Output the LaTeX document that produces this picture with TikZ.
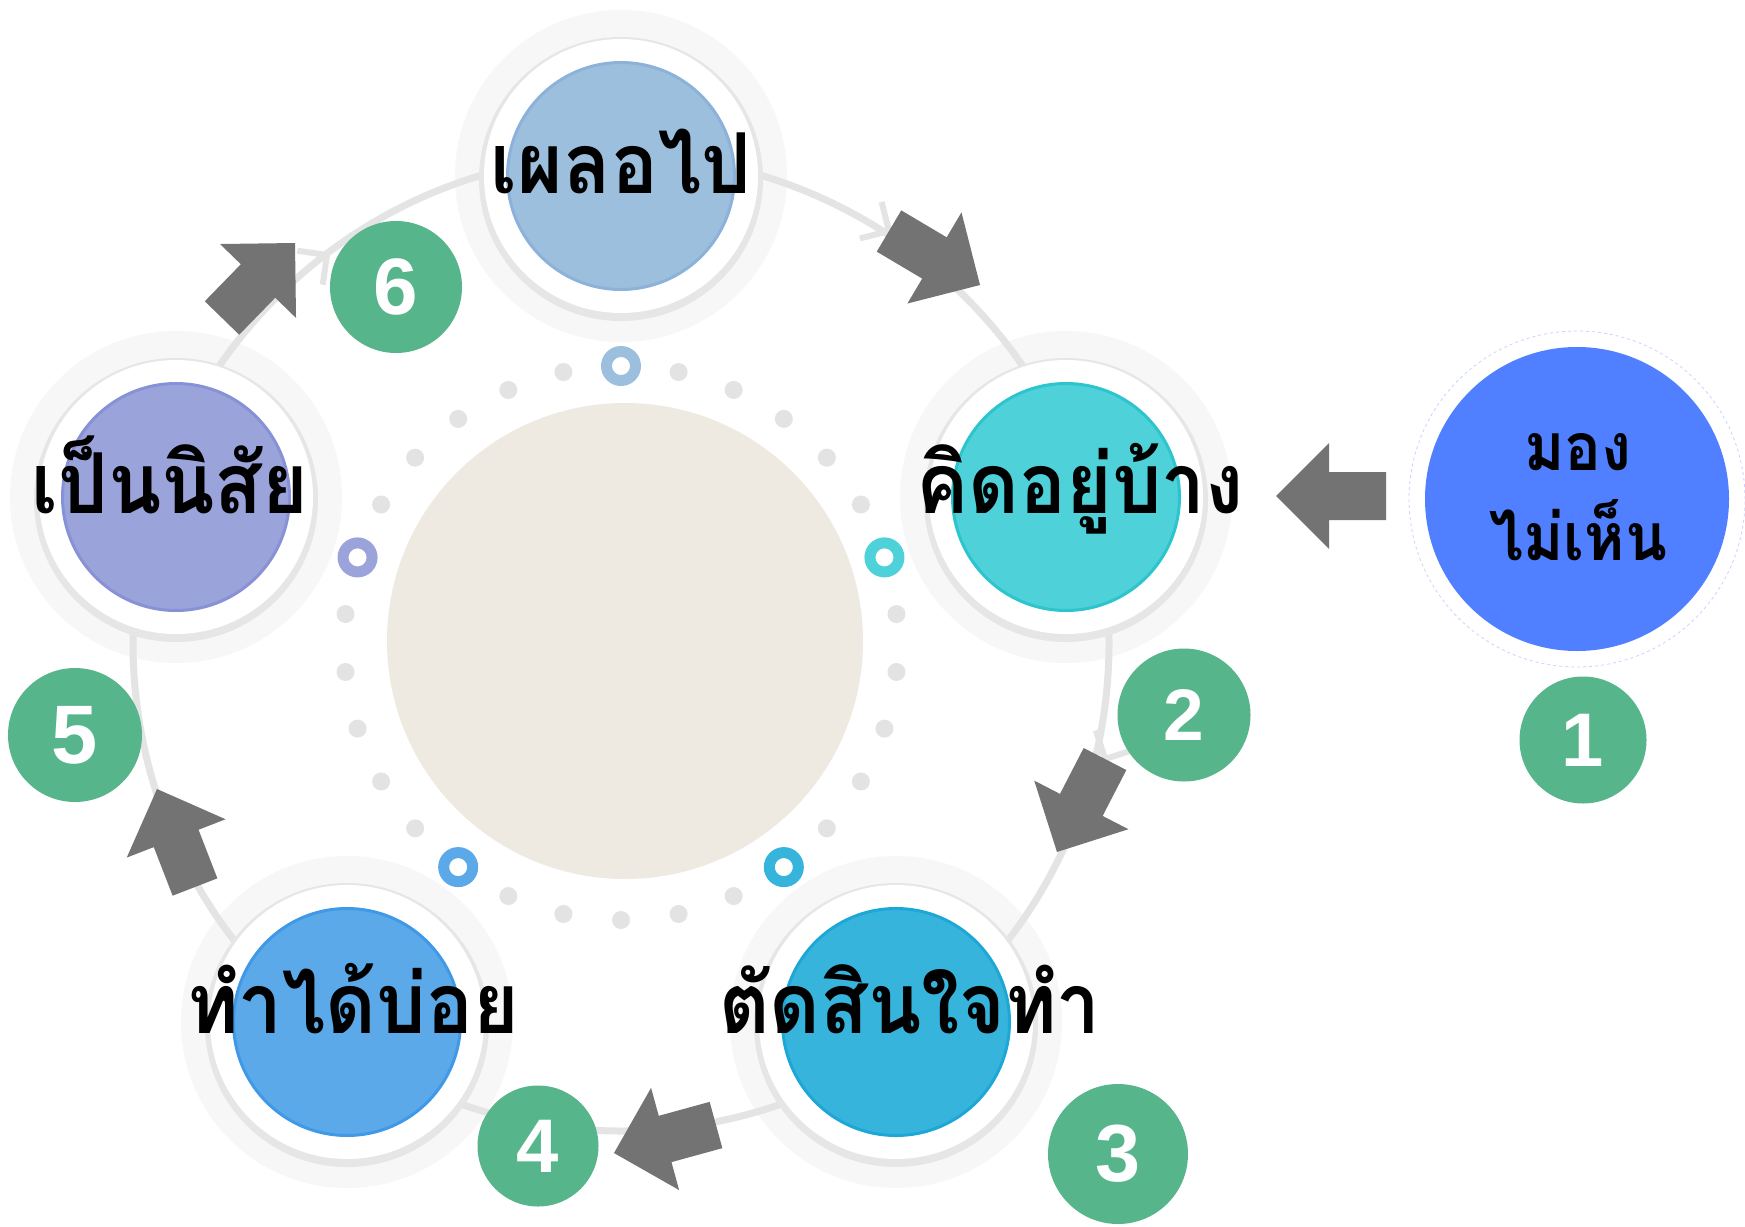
\documentclass[tikz,border=0pt]{standalone}
\usepackage{fontspec}
\setmainfont{Liberation Sans}
\newfontfamily\thaifont[Script=Thai,FakeStretch=0.93]{Loma}
\usetikzlibrary{calc}
\definecolor{arcgray}{HTML}{E4E4E4}
\definecolor{halogray}{HTML}{F7F7F7}
\definecolor{shadowgray}{HTML}{E6E6E6}
\definecolor{dotgray}{HTML}{E3E3E3}
\definecolor{beige}{HTML}{EEEAE1}
\definecolor{numgreen}{HTML}{57B58C}
\definecolor{arrowgray}{HTML}{737373}
\definecolor{cA}{HTML}{9DBFDE}\definecolor{bA}{HTML}{8CB2D9}
\definecolor{cB}{HTML}{4ED1D8}\definecolor{bB}{HTML}{2CC4CD}
\definecolor{cC}{HTML}{37B4DC}\definecolor{bC}{HTML}{1DA7D6}
\definecolor{cD}{HTML}{5BA9E8}\definecolor{bD}{HTML}{3F99E7}
\definecolor{cE}{HTML}{9AA4DB}\definecolor{bE}{HTML}{8791D6}
\definecolor{startblue}{HTML}{5080FF}
\definecolor{startrim}{HTML}{C9D3FF}
\tikzset{
  halo/.style={circle, fill=halogray, minimum size=332pt, inner sep=0pt},
  shadowdisk/.style={circle, fill=shadowgray, minimum size=284pt, inner sep=0pt},
  whitedisk/.style={circle, fill=white, minimum size=274pt, inner sep=0pt},
  core/.style={circle, minimum size=227pt, inner sep=0pt, line width=3pt},
  steptext/.style={font=\thaifont\bfseries\fontsize{84}{90}\selectfont, text=black, inner sep=0pt, anchor=base},
  starttext/.style={font=\thaifont\bfseries\fontsize{66}{70}\selectfont, text=black, inner sep=0pt, anchor=base},
  numdisk/.style={circle, fill=numgreen, text=white, inner sep=0pt, font=\bfseries\fontsize{#1}{#1}\selectfont},
  ringdot/.style={line width=11pt, fill=white},
}
\newcommand\blockarrow[2]{%
  \coordinate (#1-hb) at ($(#2)!53pt!(#1)$);
  \fill[arrowgray] ($(#1)!24pt!90:(#2)$) -- ($(#1-hb)!24pt!90:(#2)$) -- ($(#1-hb)!53pt!90:(#2)$) -- (#2) -- ($(#1-hb)!53pt!-90:(#2)$) -- ($(#1-hb)!24pt!-90:(#2)$) -- ($(#1)!24pt!-90:(#2)$) -- cycle;
}
\newcommand\chevronmark[2]{%
  \draw[arcgray, line width=6pt] ($(#1)!30pt!135:(#2)$) -- (#1) -- ($(#1)!30pt!-135:(#2)$);
}
\begin{document}
\begin{tikzpicture}[x=1pt,y=-1pt]
\useasboundingbox (0,0) rectangle (1745,1226);
\fill[white] (0,0) rectangle (1745,1226);
\coordinate (O) at (621,643);
% node centres
\coordinate (pA) at (621,176);
\coordinate (pB) at (1066,497);
\coordinate (pC) at (896,1022);
\coordinate (pD) at (347,1022);
\coordinate (pE) at (176,497);
% halos
\foreach \p in {A,B,C,D,E} {\node[halo] (h\p) at (p\p) {};}
% connecting arc
\draw[arcgray, line width=7pt] (O) circle (488pt);
% arrow positions
\coordinate (a1t) at (889,231); \coordinate (a1p) at (980,285);
\coordinate (a2t) at (1105,759); \coordinate (a2p) at (1057,852);
\coordinate (a3t) at (716,1125); \coordinate (a3p) at (614,1153);
\coordinate (a4t) at (195,887); \coordinate (a4p) at (157,789);
\coordinate (a5t) at (222,318); \coordinate (a5p) at (295,243);
\coordinate (a0t) at (1386,496); \coordinate (a0p) at (1276,496);
\coordinate (c5t) at (327,255); \coordinate (c5d) at (359,231);
% faint arrow heads of the arc
\chevronmark{a1t}{a1p}
\chevronmark{a2t}{a2p}
\chevronmark{c5t}{c5d}
% node discs
\foreach \p in {A,B,C,D,E} {
  \node[shadowdisk] (s\p) at ($(p\p)+(0,3)$) {};
  \node[whitedisk] (w\p) at (p\p) {};
}
\node[core, fill=cA, draw=bA] (kA) at (pA) {};
\node[core, fill=cB, draw=bB] (kB) at (pB) {};
\node[core, fill=cC, draw=bC] (kC) at (pC) {};
\node[core, fill=cD, draw=bD] (kD) at (pD) {};
\node[core, fill=cE, draw=bE] (kE) at (pE) {};
% centre disc and dotted ring
\fill[beige] (625,641) circle (238pt);
\foreach \k in {1,...,29} {
  \pgfmathtruncatemacro\m{mod(\k,6)}
  \ifnum\m=0\else
    \fill[dotgray] ($(O)+(-90+12*\k:277)$) circle (9pt);
  \fi
}
\draw[ringdot, draw=cA] ($(O)+(-90:277)$) circle (14.5pt);
\draw[ringdot, draw=cB] ($(O)+(-18:277)$) circle (14.5pt);
\draw[ringdot, draw=cC] ($(O)+(54:277)$) circle (14.5pt);
\draw[ringdot, draw=cD] ($(O)+(126:277)$) circle (14.5pt);
\draw[ringdot, draw=cE] ($(O)+(198:277)$) circle (14.5pt);
% start circle
\node[circle, draw=startrim, dashed, line width=0.8pt, fill=white, minimum size=336pt, inner sep=0pt] (st0) at (1577,499) {};
\node[circle, fill=startblue, minimum size=304pt, inner sep=0pt] (st) at (1577,499) {};
% texts
\node[steptext] (tA) at (621,193) {เผลอไป};
\node[steptext] (tB) at (1080,513) {คิดอยู่บ้าง};
\node[steptext] (tC) at (910,1033) {ตัดสินใจทำ};
\node[steptext] (tD) at (353,1033) {ทำได้บ่อย};
\node[steptext] (tE) at (170,513) {เป็นนิสัย};
\node[starttext] (t0a) at (1578,470) {มอง};
\node[starttext] (t0b) at (1578,560) {ไม่เห็น};
% block arrows
\blockarrow{a0t}{a0p}
\blockarrow{a1t}{a1p}
\blockarrow{a2t}{a2p}
\blockarrow{a3t}{a3p}
\blockarrow{a4t}{a4p}
\blockarrow{a5t}{a5p}
% numbers
\node[numdisk=76, minimum size=127pt] (n1) at (1583,740) {1};
\node[numdisk=73, minimum size=133pt] (n2) at (1184,715) {2};
\node[numdisk=81, minimum size=140pt] (n3) at (1118,1154) {3};
\node[numdisk=76, minimum size=121pt] (n4) at (538,1146) {4};
\node[numdisk=83, minimum size=134pt] (n5) at (75,735) {5};
\node[numdisk=80, minimum size=132pt] (n6) at (396,287) {6};
\end{tikzpicture}
\end{document}
